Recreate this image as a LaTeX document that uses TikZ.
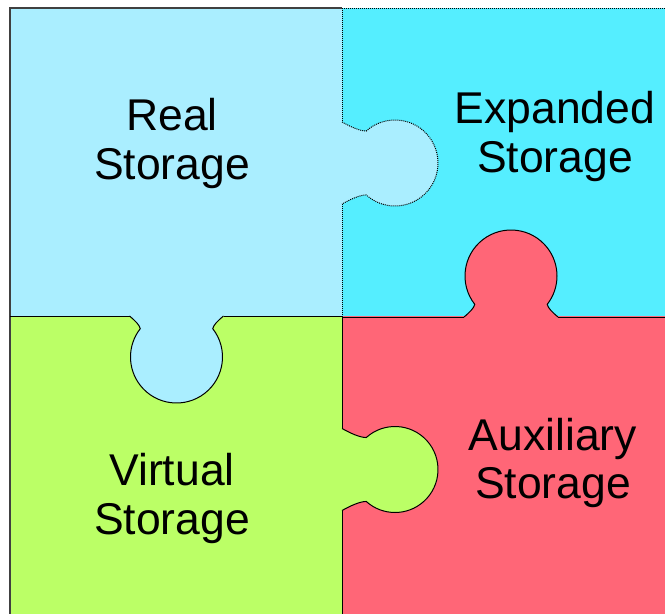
\documentclass[tikz,border=0pt]{standalone}
\usepackage{fontspec}
\setmainfont{Liberation Sans}
\definecolor{realblue}{RGB}{170,238,255}
\definecolor{expcyan}{RGB}{85,238,255}
\definecolor{virtgreen}{RGB}{187,255,102}
\definecolor{auxpink}{RGB}{255,102,119}
% horizontal tab (points along +x), base on x=0
\newcommand\tabHpath{(0,-41) .. controls (9,-36) and (18,-32) .. (24.23,-31.96)
  arc[start angle=-132, end angle=132, radius=43]
  .. controls (18,32) and (9,36) .. (0,41)}
% vertical tab (wider, shorter), base on x=0
\newcommand\tabVpath{(0,-47) .. controls (5,-41) and (9,-37) .. (12.68,-36.25)
  arc[start angle=-128, end angle=128, radius=46]
  .. controls (9,37) and (5,41) .. (0,47)}
\tikzset{
  edge/.style={line width=1pt, draw=black},
  dotedge/.style={line width=1pt, draw=black, dash pattern=on 1pt off 1pt},
  lbl/.style={anchor=base, inner sep=0pt, font=\fontsize{44.5}{49}\selectfont},
}
\begin{document}
\begin{tikzpicture}[x=1pt, y=-1pt]
\useasboundingbox (0,0) rectangle (665,614);
\clip (0,0) rectangle (665,614);
% quadrants
\fill[realblue]  (10,8)   rectangle (342,316);
\fill[expcyan]   (342,8)  rectangle (700,316);
\fill[virtgreen] (10,316) rectangle (342,700);
\fill[auxpink]   (342,316) rectangle (700,700);
% tabs
\begin{scope}[shift={(342,163)}]
  \fill[realblue] \tabHpath;
  \draw[dotedge] \tabHpath;
\end{scope}
\begin{scope}[shift={(342,469.5)}]
  \fill[virtgreen] \tabHpath;
  \draw[edge] \tabHpath;
\end{scope}
\begin{scope}[shift={(176.5,316)}, rotate=-90]
  \fill[realblue] \tabVpath;
  \draw[edge] \tabVpath;
\end{scope}
\begin{scope}[shift={(511,317)}, rotate=90]
  \fill[auxpink] \tabVpath;
  \draw[edge] \tabVpath;
\end{scope}
% piece edges
\draw[line width=1.2pt, draw=black!75] (10,700) -- (10,8) -- (342,8);
\draw[dotedge] (342,8) -- (700,8);
\draw[dotedge] (342,8) -- (342,122);
\draw[dotedge] (342,204) -- (342,316);
\draw[edge] (10,316) -- (129.5,316);
\draw[edge] (223.5,316) -- (342,316);
\draw[edge] (342,316) -- (342,428.5);
\draw[edge] (342,510.5) -- (342,700);
\draw[edge] (342,317) -- (464,317);
\draw[edge] (558,317) -- (700,317);
% labels
\node[lbl] (real1) at (172,130) {Real};
\node[lbl] (real2) at (172,179) {Storage};
\node[lbl] (exp1) at (555,123) {Expanded};
\node[lbl] (exp2) at (555,172) {Storage};
\node[lbl] (virt1) at (172,485) {Virtual};
\node[lbl] (virt2) at (172,534) {Storage};
\node[lbl] (aux1) at (553,450) {Auxiliary};
\node[lbl] (aux2) at (553,498) {Storage};
\end{tikzpicture}
\end{document}
